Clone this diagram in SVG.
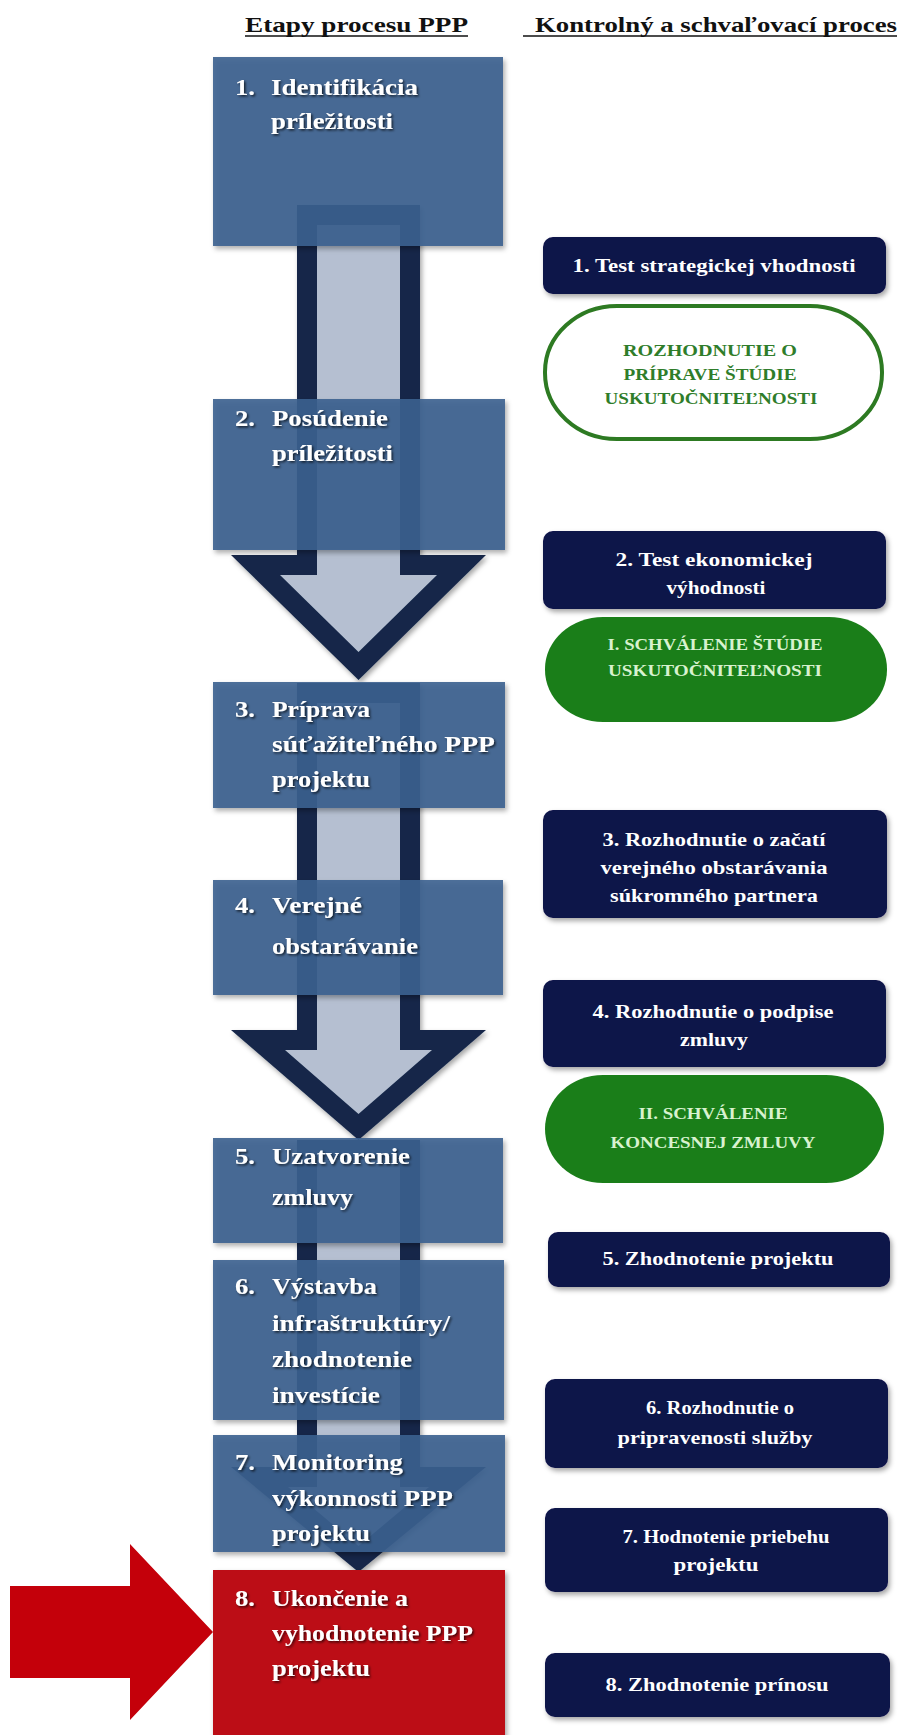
<svg xmlns="http://www.w3.org/2000/svg" width="901" height="1735" viewBox="0 0 901 1735">
<defs>
<style>
.hdr{font-family:"Liberation Serif","Times New Roman",serif;font-weight:bold;font-size:22px;fill:#111}
.ul{stroke:#111;stroke-width:1.5}
.lt{font-family:"Liberation Serif","Times New Roman",serif;font-weight:bold;font-size:23px;fill:#ffffff}
.rt{font-family:"Liberation Serif","Times New Roman",serif;font-weight:bold;font-size:19px;fill:#ffffff;text-anchor:middle}
.gt{font-family:"Liberation Serif","Times New Roman",serif;font-weight:bold;font-size:16px;fill:#2f7d2a;text-anchor:middle}
.gft{font-family:"Liberation Serif","Times New Roman",serif;font-weight:bold;font-size:16px;fill:#d8f2cf;text-anchor:middle}
.box{fill:#3b5f8f;fill-opacity:0.9}
.red{fill:#bc1117}
.rbox{fill:#10124a}
.gout{fill:#ffffff;stroke:#2d7a22;stroke-width:4}
.gfill{fill:#1a7e19}
.ao{fill:#15284a}
.ai{fill:#b5bfd1}
</style>
<filter id="sh" x="-10%" y="-10%" width="125%" height="125%">
<feDropShadow dx="2" dy="3" stdDeviation="2.5" flood-color="#000" flood-opacity="0.35"/>
</filter>
<filter id="tsh" x="-10%" y="-20%" width="130%" height="160%">
<feDropShadow dx="1.5" dy="1.5" stdDeviation="0.8" flood-color="#000" flood-opacity="0.7"/>
</filter>
</defs>
<rect width="901" height="1735" fill="#ffffff"/>

<g id="headers">
<text class="hdr" x="245" y="32" textLength="223" lengthAdjust="spacingAndGlyphs">Etapy procesu PPP</text>
<line class="ul" x1="245" y1="36" x2="468" y2="36"/>
<text class="hdr" x="535" y="32" textLength="362" lengthAdjust="spacingAndGlyphs">Kontrolný a schvaľovací proces</text>
<line class="ul" x1="523" y1="36" x2="897" y2="36"/>
</g>

<g id="connectors">
<g id="arrow1" filter="url(#sh)">
<polygon class="ao" points="297,205 420,205 420,555 486,555 358.5,680 231,555 297,555"/>
<polygon class="ai" points="317,225 400,225 400,575 437,575 358.5,652 280,575 317,575"/>
</g>
<g id="arrow2" filter="url(#sh)">
<polygon class="ao" points="297,683 420,683 420,1030 486,1030 358.5,1140 231,1030 297,1030"/>
<polygon class="ai" points="317,703 400,703 400,1050 432,1050 358.5,1114 285,1050 317,1050"/>
</g>
<g id="arrow3" filter="url(#sh)">
<polygon class="ao" points="297,1140 420,1140 420,1467 486,1467 358.5,1572 231,1467 297,1467"/>
<polygon class="ai" points="317,1160 400,1160 400,1487 429,1487 358.5,1546 288,1487 317,1487"/>
</g>
<g id="red-arrow">
<polygon fill="#c4000a" points="10,1586 130,1586 130,1544 213,1632 130,1720 130,1678 10,1678"/>
</g>
</g>

<g id="stage1">
<rect class="box" x="213" y="57" width="290" height="189" filter="url(#sh)"/>
<g filter="url(#tsh)">
<text class="lt" x="235" y="95" textLength="20" lengthAdjust="spacingAndGlyphs">1.</text>
<text class="lt" x="271" y="95" textLength="147" lengthAdjust="spacingAndGlyphs">Identifikácia</text>
<text class="lt" x="271" y="129" textLength="122" lengthAdjust="spacingAndGlyphs">príležitosti</text>
</g>
</g>

<g id="stage2">
<rect class="box" x="213" y="399" width="292" height="151" filter="url(#sh)"/>
<g filter="url(#tsh)">
<text class="lt" x="235" y="426" textLength="20" lengthAdjust="spacingAndGlyphs">2.</text>
<text class="lt" x="272" y="426" textLength="116" lengthAdjust="spacingAndGlyphs">Posúdenie</text>
<text class="lt" x="272" y="461" textLength="121" lengthAdjust="spacingAndGlyphs">príležitosti</text>
</g>
</g>

<g id="stage3">
<rect class="box" x="213" y="682" width="292" height="126" filter="url(#sh)"/>
<g filter="url(#tsh)">
<text class="lt" x="235" y="717" textLength="20" lengthAdjust="spacingAndGlyphs">3.</text>
<text class="lt" x="272" y="717" textLength="98" lengthAdjust="spacingAndGlyphs">Príprava</text>
<text class="lt" x="272" y="752" textLength="223" lengthAdjust="spacingAndGlyphs">súťažiteľného PPP</text>
<text class="lt" x="272" y="787" textLength="98" lengthAdjust="spacingAndGlyphs">projektu</text>
</g>
</g>

<g id="stage4">
<rect class="box" x="213" y="880" width="290" height="115" filter="url(#sh)"/>
<g filter="url(#tsh)">
<text class="lt" x="235" y="913" textLength="20" lengthAdjust="spacingAndGlyphs">4.</text>
<text class="lt" x="272" y="913" textLength="90" lengthAdjust="spacingAndGlyphs">Verejné</text>
<text class="lt" x="272" y="954" textLength="146" lengthAdjust="spacingAndGlyphs">obstarávanie</text>
</g>
</g>

<g id="stage5">
<rect class="box" x="213" y="1138" width="290" height="105" filter="url(#sh)"/>
<g filter="url(#tsh)">
<text class="lt" x="235" y="1164" textLength="20" lengthAdjust="spacingAndGlyphs">5.</text>
<text class="lt" x="272" y="1164" textLength="138" lengthAdjust="spacingAndGlyphs">Uzatvorenie</text>
<text class="lt" x="272" y="1205" textLength="81" lengthAdjust="spacingAndGlyphs">zmluvy</text>
</g>
</g>

<g id="stage6">
<rect class="box" x="213" y="1260" width="291" height="160" filter="url(#sh)"/>
<g filter="url(#tsh)">
<text class="lt" x="235" y="1294" textLength="20" lengthAdjust="spacingAndGlyphs">6.</text>
<text class="lt" x="272" y="1294" textLength="105" lengthAdjust="spacingAndGlyphs">Výstavba</text>
<text class="lt" x="272" y="1331" textLength="178" lengthAdjust="spacingAndGlyphs">infraštruktúry/</text>
<text class="lt" x="272" y="1367" textLength="140" lengthAdjust="spacingAndGlyphs">zhodnotenie</text>
<text class="lt" x="272" y="1403" textLength="108" lengthAdjust="spacingAndGlyphs">investície</text>
</g>
</g>

<g id="stage7">
<rect class="box" x="213" y="1435" width="292" height="117" filter="url(#sh)"/>
<g filter="url(#tsh)">
<text class="lt" x="235" y="1470" textLength="20" lengthAdjust="spacingAndGlyphs">7.</text>
<text class="lt" x="272" y="1470" textLength="131" lengthAdjust="spacingAndGlyphs">Monitoring</text>
<text class="lt" x="272" y="1506" textLength="181" lengthAdjust="spacingAndGlyphs">výkonnosti PPP</text>
<text class="lt" x="272" y="1541" textLength="98" lengthAdjust="spacingAndGlyphs">projektu</text>
</g>
</g>

<g id="stage8">
<rect class="red" x="213" y="1570" width="292" height="170" filter="url(#sh)"/>
<g filter="url(#tsh)">
<text class="lt" x="235" y="1606" textLength="20" lengthAdjust="spacingAndGlyphs">8.</text>
<text class="lt" x="272" y="1606" textLength="136" lengthAdjust="spacingAndGlyphs">Ukončenie a</text>
<text class="lt" x="272" y="1641" textLength="201" lengthAdjust="spacingAndGlyphs">vyhodnotenie PPP</text>
<text class="lt" x="272" y="1676" textLength="98" lengthAdjust="spacingAndGlyphs">projektu</text>
</g>
</g>

<g id="check1">
<rect class="rbox" x="543" y="237" width="343" height="57" rx="10" filter="url(#sh)"/>
<text class="rt" x="714" y="272" textLength="283" lengthAdjust="spacingAndGlyphs">1. Test strategickej vhodnosti</text>
</g>

<g id="decision1">
<rect class="gout" x="545" y="306" width="337" height="133" rx="72" ry="66"/>
<text class="gt" x="710" y="356" textLength="174" lengthAdjust="spacingAndGlyphs">ROZHODNUTIE O</text>
<text class="gt" x="710" y="380" textLength="173" lengthAdjust="spacingAndGlyphs">PRÍPRAVE ŠTÚDIE</text>
<text class="gt" x="711" y="404" textLength="213" lengthAdjust="spacingAndGlyphs">USKUTOČNITEĽNOSTI</text>
</g>

<g id="check2">
<rect class="rbox" x="543" y="531" width="343" height="78" rx="10" filter="url(#sh)"/>
<text class="rt" x="714" y="566" textLength="197" lengthAdjust="spacingAndGlyphs">2. Test ekonomickej</text>
<text class="rt" x="716" y="594" textLength="99" lengthAdjust="spacingAndGlyphs">výhodnosti</text>
</g>

<g id="approval1">
<rect class="gfill" x="545" y="617" width="342" height="105" rx="58" ry="52"/>
<text class="gft" x="715" y="650" textLength="215" lengthAdjust="spacingAndGlyphs">I. SCHVÁLENIE ŠTÚDIE</text>
<text class="gft" x="715" y="676" textLength="214" lengthAdjust="spacingAndGlyphs">USKUTOČNITEĽNOSTI</text>
</g>

<g id="check3">
<rect class="rbox" x="543" y="810" width="344" height="108" rx="10" filter="url(#sh)"/>
<text class="rt" x="714" y="846" textLength="223" lengthAdjust="spacingAndGlyphs">3. Rozhodnutie o začatí</text>
<text class="rt" x="714" y="874" textLength="227" lengthAdjust="spacingAndGlyphs">verejného obstarávania</text>
<text class="rt" x="714" y="902" textLength="208" lengthAdjust="spacingAndGlyphs">súkromného partnera</text>
</g>

<g id="check4">
<rect class="rbox" x="543" y="980" width="343" height="87" rx="10" filter="url(#sh)"/>
<text class="rt" x="713" y="1018" textLength="241" lengthAdjust="spacingAndGlyphs">4. Rozhodnutie o podpise</text>
<text class="rt" x="714" y="1046" textLength="68" lengthAdjust="spacingAndGlyphs">zmluvy</text>
</g>

<g id="approval2">
<rect class="gfill" x="545" y="1075" width="339" height="108" rx="58" ry="54"/>
<text class="gft" x="713" y="1119" textLength="149" lengthAdjust="spacingAndGlyphs">II. SCHVÁLENIE</text>
<text class="gft" x="713" y="1148" textLength="205" lengthAdjust="spacingAndGlyphs">KONCESNEJ ZMLUVY</text>
</g>

<g id="check5">
<rect class="rbox" x="548" y="1232" width="342" height="55" rx="10" filter="url(#sh)"/>
<text class="rt" x="718" y="1265" textLength="231" lengthAdjust="spacingAndGlyphs">5. Zhodnotenie projektu</text>
</g>

<g id="check6">
<rect class="rbox" x="545" y="1379" width="343" height="89" rx="10" filter="url(#sh)"/>
<text class="rt" x="720" y="1414" textLength="148" lengthAdjust="spacingAndGlyphs">6. Rozhodnutie o</text>
<text class="rt" x="715" y="1444" textLength="195" lengthAdjust="spacingAndGlyphs">pripravenosti služby</text>
</g>

<g id="check7">
<rect class="rbox" x="545" y="1508" width="343" height="84" rx="10" filter="url(#sh)"/>
<text class="rt" x="726" y="1543" textLength="207" lengthAdjust="spacingAndGlyphs">7. Hodnotenie priebehu</text>
<text class="rt" x="716" y="1571" textLength="85" lengthAdjust="spacingAndGlyphs">projektu</text>
</g>

<g id="check8">
<rect class="rbox" x="545" y="1653" width="345" height="64" rx="10" filter="url(#sh)"/>
<text class="rt" x="717" y="1691" textLength="223" lengthAdjust="spacingAndGlyphs">8. Zhodnotenie prínosu</text>
</g>
</svg>
